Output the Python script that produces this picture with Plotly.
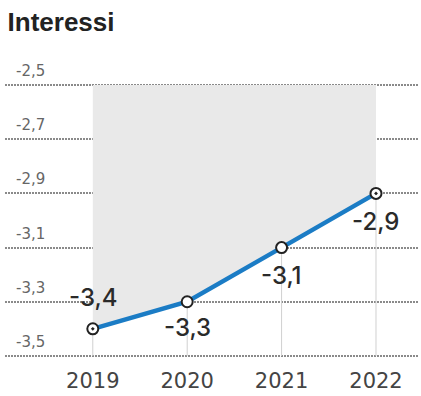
import plotly.graph_objects as go

# Data
years = [2019, 2020, 2021, 2022]
values = [-3.4, -3.3, -3.1, -2.9]
value_labels = ["-3,4", "-3,3", "-3,1", "-2,9"]
y_ticks = [-3.5, -3.3, -3.1, -2.9, -2.7, -2.5]
y_tick_labels = ["-3,5", "-3,3", "-3,1", "-2,9", "-2,7", "-2,5"]
y_floor = -3.5
y_top = -2.5

# Styling
marker_symbols = ["circle-dot", "circle", "circle", "circle-dot"]
label_shifts = [31, -26, -28, -28]
line_blue = "#1b7cc5"
font = "DejaVu Sans"

fig = go.Figure()

# Drop lines from each point to the floor
drop_x, drop_y = [], []
for x, v in zip(years, values):
    drop_x += [x, x, None]
    drop_y += [v, y_floor, None]
fig.add_trace(go.Scatter(x=drop_x, y=drop_y, mode="lines",
                         line=dict(color="#d0d0d0", width=1),
                         hoverinfo="skip", showlegend=False))

# Grey band between the series and the top of the scale
fig.add_trace(go.Scatter(x=years, y=values, mode="lines",
                         line=dict(width=0), hoverinfo="skip", showlegend=False))
fig.add_trace(go.Scatter(x=years, y=[y_top] * len(years), mode="lines",
                         line=dict(width=0), fill="tonexty",
                         fillcolor="#e9e9e9", hoverinfo="skip", showlegend=False))

# Main series
fig.add_trace(go.Scatter(
    x=years, y=values, mode="lines+markers",
    line=dict(color=line_blue, width=4.5),
    marker=dict(symbol=marker_symbols, size=11, color="white",
                line=dict(color="#222222", width=2)),
    cliponaxis=False, showlegend=False,
))

annotations = []
# Value labels
for x, v, lab, dy in zip(years, values, value_labels, label_shifts):
    annotations.append(dict(x=x, y=v, xref="x", yref="y", text=lab, showarrow=False,
                            xanchor="center", yanchor="middle", yshift=dy,
                            font=dict(family="Inter", size=24, weight=500, color="#2a2a2a")))
# Y tick labels, sitting above their grid lines
for t, lab in zip(y_ticks, y_tick_labels):
    annotations.append(dict(x=0, y=t, xref="paper", yref="y", text=lab, showarrow=False,
                            xanchor="left", yanchor="middle", xshift=9, yshift=14,
                            font=dict(family=font, size=15, color="#666666")))

fig.update_layout(
    width=421, height=396,
    margin=dict(l=5, r=3, t=77, b=29),
    paper_bgcolor="white", plot_bgcolor="white",
    separators=",.",
    title=dict(text="<b>Interessi</b>", x=0.018, xanchor="left", y=0.944, yanchor="middle",
               font=dict(family="Liberation Sans", size=26, color="#222222")),
    annotations=annotations,
    xaxis=dict(range=[2018.07, 2022.445], tickvals=years, ticktext=[str(y) for y in years],
               showgrid=False, zeroline=False, showline=False,
               tickfont=dict(family=font, size=21, color="#444444"),
               ticks="", ticklabelstandoff=2),
    yaxis=dict(range=[-3.53, -2.47], tickvals=y_ticks, showticklabels=False,
               showgrid=True, gridcolor="#8a8a8a", gridwidth=1.5, griddash="1.5px,1.5px",
               zeroline=False, showline=False, ticks=""),
)

fig.write_html("out.html")
